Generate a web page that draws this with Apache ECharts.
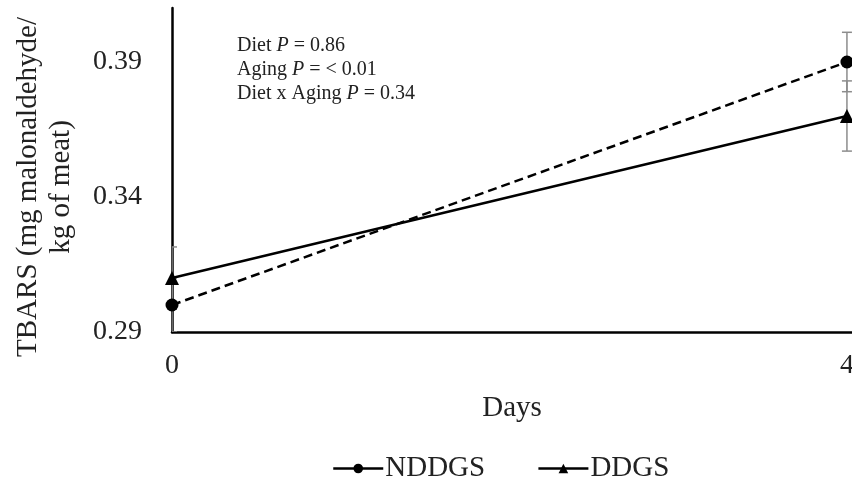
<!DOCTYPE html>
<html><head><meta charset="utf-8">
<script src="https://cdn.jsdelivr.net/npm/echarts@6/dist/echarts.min.js"></script>
<style>html,body{margin:0;padding:0;background:#fff}#c{width:852px;height:485px}</style>
</head><body><div id="c"></div>
<script>
const days = [0, 4];
const nddgs = [0.300, 0.390];
const ddgs = [0.310, 0.370];
const nddgsErr = [0.010, 0.011];
const ddgsErr = [0.0115, 0.013];
const yTicks = [0.29, 0.34, 0.39];
const xTicks = [0, 4];
const annotLines = [['Diet ', ' = 0.86'], ['Aging ', ' = < 0.01'], ['Diet x Aging ', ' = 0.34']];
const yNameLines = ['TBARS (mg malonaldehyde/', 'kg of meat)'];

const FONT = '"Liberation Serif", "Times New Roman", serif';
const chart = echarts.init(document.getElementById('c'), null, {renderer: 'canvas'});

function errSeries(name, vals, errs) {
  return {
    type: 'custom', name: name + ' err', silent: true, clip: true, z: 1,
    data: days.map((d, i) => [d, vals[i], errs[i]]),
    renderItem: function (params, api) {
      const x = api.value(0), y = api.value(1), e = api.value(2);
      const lo = api.coord([x, y - e]), hi = api.coord([x, y + e]);
      const w = 5;
      const st = {stroke: '#8c8c8c', lineWidth: 1.5};
      return {type: 'group', children: [
        {type: 'line', shape: {x1: lo[0], y1: lo[1], x2: hi[0], y2: hi[1]}, style: st},
        {type: 'line', shape: {x1: lo[0] - w, y1: lo[1], x2: lo[0] + w, y2: lo[1]}, style: st},
        {type: 'line', shape: {x1: hi[0] - w, y1: hi[1], x2: hi[0] + w, y2: hi[1]}, style: st}
      ]};
    }
  };
}

const graphics = annotLines.map((l, i) => ({
  type: 'text', left: 237, top: 36 + i * 24,
  style: {
    text: '{a|' + l[0] + '}{i|P}{a|' + l[1] + '}',
    rich: {
      a: {fontFamily: FONT, fontSize: 20, fill: '#222'},
      i: {fontFamily: FONT, fontSize: 20, fontStyle: 'italic', fill: '#222'}
    }
  }
}));
yNameLines.forEach((t, i) => {
  graphics.push({
    type: 'text', x: 28 + i * 33, y: 187, rotation: Math.PI / 2,
    style: {text: t, fontFamily: FONT, fontSize: 29, fill: '#222', align: 'center', verticalAlign: 'middle'}
  });
});

chart.setOption({
  animation: false,
  backgroundColor: '#fff',
  grid: {left: 172, right: 0, top: 8, bottom: 153, containLabel: false, outerBoundsMode: 'none'},
  graphic: graphics,
  legend: {
    top: 454, left: 332, padding: 0, itemWidth: 50, itemHeight: 12, itemGap: 52,
    data: ['NDDGS', 'DDGS'],
    lineStyle: {type: 'solid', width: 2.5},
    textStyle: {fontFamily: FONT, fontSize: 29, color: '#222', padding: [0, 0, 0, -3]}
  },
  xAxis: {
    type: 'value', min: 0, max: 4.03,
    name: 'Days', nameLocation: 'middle', nameGap: 62,
    nameTextStyle: {fontFamily: FONT, fontSize: 29, color: '#222'},
    axisLine: {lineStyle: {color: '#000', width: 2.5}},
    axisTick: {show: false},
    splitLine: {show: false},
    axisLabel: {fontFamily: FONT, fontSize: 28, color: '#222', margin: 20, customValues: xTicks}
  },
  yAxis: {
    type: 'value', min: 0.29, max: 0.41,
    axisLine: {show: true, lineStyle: {color: '#000', width: 2.5}},
    axisTick: {show: false},
    splitLine: {show: false},
    axisLabel: {fontFamily: FONT, fontSize: 28, color: '#222', margin: 30, customValues: yTicks,
      formatter: v => v.toFixed(2)}
  },
  series: [
    errSeries('NDDGS', nddgs, nddgsErr),
    errSeries('DDGS', ddgs, ddgsErr),
    {
      name: 'NDDGS', type: 'line', z: 3,
      data: days.map((d, i) => [d, nddgs[i]]),
      symbol: 'circle', symbolSize: 13,
      itemStyle: {color: '#000'},
      lineStyle: {color: '#000', width: 2.5, type: [9, 5]}
    },
    {
      name: 'DDGS', type: 'line', z: 3,
      data: days.map((d, i) => [d, ddgs[i]]),
      symbol: 'triangle', symbolSize: 14,
      itemStyle: {color: '#000'},
      lineStyle: {color: '#000', width: 2.5, type: 'solid'}
    }
  ]
});
</script></body></html>
